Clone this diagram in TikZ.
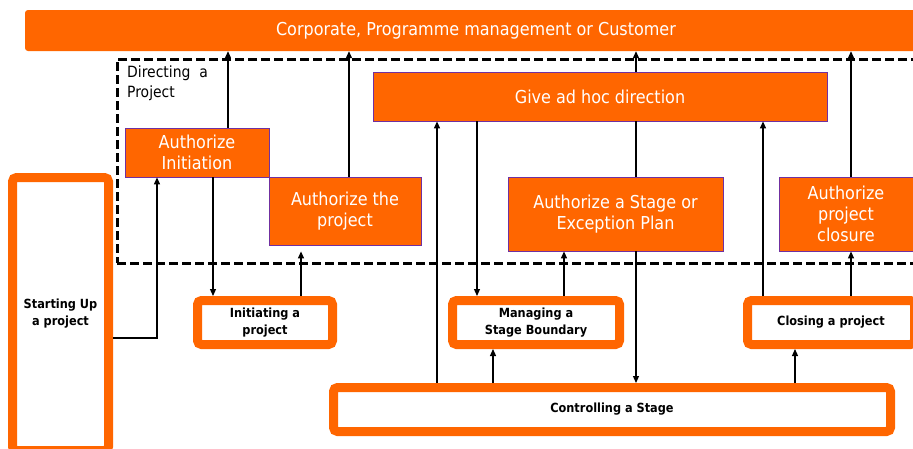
\documentclass[tikz,border=0pt]{standalone}
\usepackage{fontspec}
\setmainfont{DejaVu Sans Condensed}
\usepackage{xcolor}
\usetikzlibrary{arrows.meta,calc,positioning}
\definecolor{prOrange}{RGB}{255,102,0}
\definecolor{prPurple}{RGB}{112,48,160}
\newcommand{\wt}{\fontsize{17.8}{21}\selectfont}
\newcommand{\bt}{\fontsize{12.6}{17}\selectfont\bfseries}

\begin{document}
\begin{tikzpicture}[
    x=1pt, y=1pt,
    bar/.style  ={fill=prOrange, rounded corners=3pt, text=white, font=\wt,
                  inner sep=0pt},
    auth/.style ={fill=prOrange, draw=prPurple, line width=0.8pt, text=white,
                  font=\wt, align=center, inner sep=0pt},
    proc/.style ={draw=prOrange, fill=white, line width=9pt, rounded corners=4pt,
                  font=\bt, align=center, inner sep=0pt},
    frm/.style  ={draw=black, line width=3pt, dash pattern=on 9pt off 4pt,
                  inner sep=0pt},
    arr/.style  ={-{Triangle[length=7pt,width=6pt]}, line width=1.2pt, draw=black},
    fl/.style   ={line width=1.2pt, draw=black},
  ]
  \useasboundingbox (0,0) rectangle (913,-448);
  % directing frame
  \node[frm, minimum width=813pt, minimum height=204pt] (dir) at (523.5,-161) {};
  \node[anchor=north west, align=left, font=\fontsize{15.5}{20}\selectfont,
        inner sep=0pt] (dirlbl) at (127,-66) {Directing\ \ a\\Project};
  % top bar
  \node[bar, minimum width=902pt, minimum height=41pt] (top) at (476,-30.5)
       {Corporate, Programme management or Customer};
  % directing activities
  \node[auth, minimum width=454pt, minimum height=49pt] (adhoc) at (600,-96.5)
       {Give ad hoc direction};
  \node[auth, minimum width=144pt, minimum height=49pt] (ainit) at (197,-152.5)
       {Authorize\\Initiation};
  \node[auth, minimum width=152pt, minimum height=68pt] (aproj) at (345,-211)
       {Authorize the\\project};
  \node[auth, minimum width=215pt, minimum height=74pt] (astage) at (615.5,-214)
       {Authorize a Stage or\\Exception Plan};
  \node[auth, minimum width=134pt, minimum height=74pt] (aclose) at (846,-214)
       {Authorize\\project\\closure};
  % processes
  \node[proc, minimum width=96pt, minimum height=273pt] (start) at (60.5,-314)
       {Starting Up\\a project};
  \node[proc, minimum width=135pt, minimum height=44pt] (init) at (265,-322.5)
       {Initiating a\\project};
  \node[proc, minimum width=167pt, minimum height=44pt] (mng) at (536,-322.5)
       {Managing a\\Stage Boundary};
  \node[proc, minimum width=167pt, minimum height=44pt] (close) at (831,-322.5)
       {Closing a project};
  \node[proc, minimum width=557pt, minimum height=44pt] (ctrl) at (612,-409.5)
       {Controlling a Stage};
  % arrows
  \draw[arr] ([yshift=-24pt]start.east) -| ([xshift=-40pt]ainit.south);
  \draw[arr] ([xshift=31pt]ainit.north) -- ([xshift=31pt]ainit.north |- top.south);
  \draw[arr] ([xshift=16pt]ainit.south) -- ([xshift=16pt]ainit.south |- init.north);
  \draw[arr, shorten >=6pt] ([xshift=36pt]init.north) -- ([xshift=36pt]init.north |- aproj.south);
  \draw[arr] ([xshift=4pt]aproj.north) -- ([xshift=4pt]aproj.north |- top.south);
  \draw[arr] ([xshift=-175pt]ctrl.north) -- ([xshift=-175pt]ctrl.north |- adhoc.south);
  \draw[arr] ([xshift=-59pt]mng.north |- adhoc.south) -- ([xshift=-59pt]mng.north);
  \draw[arr] ([xshift=28pt]mng.north) -- ([xshift=28pt]mng.north |- astage.south);
  \draw[arr] ([xshift=36pt]adhoc.north) -- ([xshift=36pt]adhoc.north |- top.south);
  \draw[fl]  ([xshift=20.5pt]astage.north |- adhoc.south) -- ([xshift=20.5pt]astage.north);
  \draw[arr] ([xshift=20.5pt]astage.south) -- ([xshift=20.5pt]astage.south |- ctrl.north);
  \draw[arr] ([xshift=-68pt]close.north) -- ([xshift=-68pt]close.north |- adhoc.south);
  \draw[arr] ([xshift=5pt]aclose.north) -- ([xshift=5pt]aclose.north |- top.south);
  \draw[arr] ([xshift=20pt]close.north) -- ([xshift=20pt]close.north |- aclose.south);
  \draw[arr] ([xshift=-119pt]ctrl.north) -- ([xshift=-119pt]ctrl.north |- mng.south);
  \draw[arr] ([xshift=183pt]ctrl.north) -- ([xshift=183pt]ctrl.north |- close.south);
\end{tikzpicture}
\end{document}
